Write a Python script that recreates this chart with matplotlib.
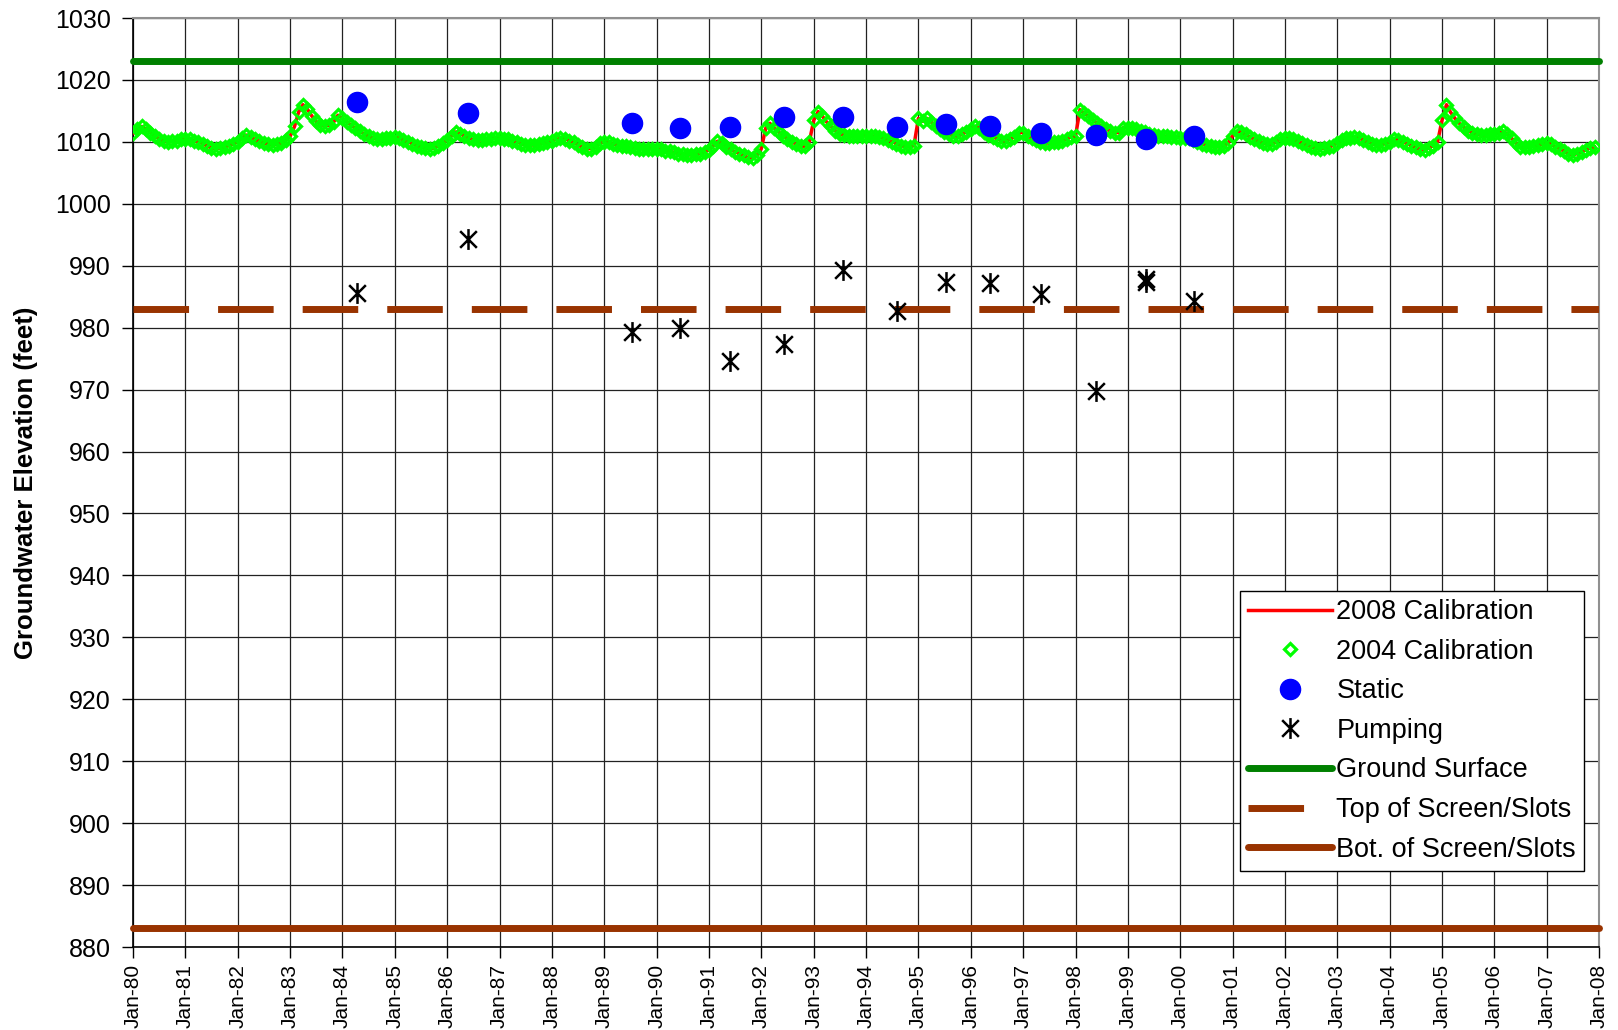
import matplotlib
matplotlib.use("Agg")
import matplotlib.pyplot as plt
import matplotlib.dates as mdates
from matplotlib.path import Path
import pandas as pd

plt.rcParams['font.family'] = ['Liberation Sans', 'DejaVu Sans']

# ---------------- data ----------------
start_month = "1980-01-01"
calib_2008 = [
    # 1980
    1011.4, 1012.0, 1012.5, 1012.0, 1011.5, 1011.0, 1010.5, 1010.1, 1010.0, 1010.1, 1010.2, 1010.4,
    # 1981
    1010.5, 1010.4, 1010.2, 1010.0, 1009.7, 1009.3, 1009.0, 1008.9, 1009.0, 1009.2, 1009.4, 1009.7,
    # 1982
    1010.0, 1010.6, 1011.1, 1010.8, 1010.4, 1010.1, 1009.8, 1009.6, 1009.5, 1009.6, 1009.8, 1010.3,
    # 1983
    1010.9, 1012.5, 1014.8, 1016.0, 1015.3, 1014.2, 1013.3, 1012.8, 1012.6, 1012.7, 1013.2, 1014.3,
    # 1984
    1013.8, 1013.2, 1012.7, 1012.2, 1011.7, 1011.3, 1010.9, 1010.6, 1010.4, 1010.5, 1010.6, 1010.7,
    # 1985
    1010.8, 1010.6, 1010.3, 1010.0, 1009.7, 1009.4, 1009.2, 1009.0, 1008.9, 1009.0, 1009.4, 1009.8,
    # 1986
    1010.3, 1011.0, 1011.6, 1011.3, 1010.9, 1010.6, 1010.4, 1010.3, 1010.3, 1010.4, 1010.5, 1010.6,
    # 1987
    1010.6, 1010.5, 1010.4, 1010.2, 1010.0, 1009.7, 1009.5, 1009.5, 1009.5, 1009.6, 1009.8, 1010.0,
    # 1988
    1010.2, 1010.4, 1010.6, 1010.5, 1010.2, 1009.9, 1009.5, 1009.1, 1008.9, 1008.9, 1009.2, 1009.8,
    # 1989
    1010.0, 1009.9, 1009.7, 1009.5, 1009.4, 1009.3, 1009.1, 1009.0, 1008.9, 1008.9, 1008.9, 1008.9,
    # 1990
    1008.9, 1008.8, 1008.6, 1008.5, 1008.3, 1008.1, 1008.0, 1007.9, 1007.9, 1008.0, 1008.1, 1008.4,
    # 1991
    1008.7, 1009.4, 1010.1, 1009.8, 1009.2, 1008.8, 1008.4, 1008.1, 1007.8, 1007.5, 1007.4, 1007.8,
    # 1992
    1008.9, 1012.2, 1013.0, 1012.2, 1011.6, 1011.0, 1010.5, 1010.0, 1009.6, 1009.3, 1009.3, 1010.0,
    # 1993
    1013.5, 1014.9, 1014.2, 1013.2, 1012.5, 1011.8, 1011.3, 1011.1, 1011.0, 1010.9, 1010.9, 1010.9,
    # 1994
    1011.0, 1011.0, 1010.9, 1010.8, 1010.6, 1010.3, 1010.0, 1009.7, 1009.4, 1009.2, 1009.2, 1009.4,
    # 1995
    1013.8, 1013.3, 1013.8, 1013.2, 1012.6, 1012.1, 1011.6, 1011.2, 1011.0, 1010.9, 1011.2, 1011.6,
    # 1996
    1012.0, 1012.5, 1012.2, 1011.6, 1011.1, 1010.8, 1010.5, 1010.2, 1010.1, 1010.4, 1010.8, 1011.5,
    # 1997
    1011.5, 1011.0, 1010.6, 1010.3, 1010.0, 1009.8, 1009.8, 1009.9, 1010.0, 1010.2, 1010.5, 1010.8,
    # 1998
    1010.9, 1015.2, 1014.6, 1014.2, 1013.6, 1013.0, 1012.5, 1012.0, 1011.8, 1011.5, 1011.5, 1012.3,
    # 1999
    1012.3, 1012.2, 1012.0, 1011.8, 1011.6, 1011.3, 1011.1, 1011.0, 1010.9, 1010.9, 1010.8, 1010.8,
    # 2000
    1010.7, 1010.7, 1010.6, 1010.3, 1010.0, 1009.7, 1009.5, 1009.3, 1009.2, 1009.2, 1009.4, 1009.8,
    # 2001
    1011.0, 1011.7, 1011.6, 1011.2, 1010.8, 1010.4, 1010.1, 1009.8, 1009.6, 1009.6, 1010.0, 1010.5,
    # 2002
    1010.6, 1010.6, 1010.4, 1010.1, 1009.8, 1009.5, 1009.2, 1009.0, 1008.9, 1009.0, 1009.1, 1009.4,
    # 2003
    1009.8, 1010.3, 1010.6, 1010.6, 1010.8, 1010.6, 1010.3, 1010.0, 1009.7, 1009.5, 1009.5, 1009.7,
    # 2004
    1010.0, 1010.5, 1010.3, 1010.0, 1009.7, 1009.4, 1009.1, 1008.8, 1008.7, 1009.0, 1009.4, 1010.0,
    # 2005
    1013.5, 1016.0, 1014.8, 1013.8, 1013.0, 1012.4, 1011.8, 1011.4, 1011.2, 1011.1, 1011.1, 1011.2,
    # 2006
    1011.3, 1011.5, 1011.7, 1011.3, 1010.6, 1009.8, 1009.2, 1009.1, 1009.2, 1009.3, 1009.5, 1009.6,
    # 2007
    1009.8, 1009.6, 1009.2, 1008.9, 1008.5, 1008.1, 1007.9, 1008.1, 1008.4, 1008.7, 1009.0, 1009.2,
]
calib_2004 = list(calib_2008)

obs_dates = ["1984-04-12", "1986-05-26", "1989-07-13", "1990-06-10", "1991-05-30",
             "1992-06-07", "1993-07-27", "1994-08-04", "1995-07-16", "1996-05-16",
             "1997-05-05", "1998-05-27", "1999-05-09", "2000-04-10"]
static_levels = [1016.5, 1014.7, 1013.0, 1012.2, 1012.4, 1014.0, 1014.0, 1012.4,
                 1012.9, 1012.5, 1011.4, 1011.1, 1010.5, 1011.0]
pump_dates = obs_dates[:13] + ["1999-05-09"] + obs_dates[13:]
pump_levels = [985.6, 994.25, 979.3, 979.9, 974.6, 977.3, 989.25, 982.75,
               987.4, 987.25, 985.4, 969.75, 987.3, 987.8, 984.25]

ground_surface = 1023
top_screen = 983
bot_screen = 883
x_start, x_end = "1980-01-01", "2008-01-01"
y_ticks = list(range(880, 1031, 10))

# star marker: X with a vertical bar (Excel style)
star = Path([(-1, -1), (1, 1), (-1, 1), (1, -1), (0, -1.25), (0, 1.25)],
            [Path.MOVETO, Path.LINETO, Path.MOVETO, Path.LINETO, Path.MOVETO, Path.LINETO])

# ---------------- figure ----------------
fig = plt.figure(figsize=(16.18, 10.30), dpi=100)
ax = fig.add_axes([133/1618, 1 - 947/1030, 1466/1618, 929/1030])

months = pd.date_range(start_month, periods=len(calib_2008), freq="MS")
ends = pd.to_datetime([x_start, x_end])

ax.plot(months, calib_2008, color="#ff0000", lw=2.5, label="2008 Calibration", zorder=4)
ax.plot(months, calib_2004, ls="none", marker="D", markersize=6, markerfacecolor="none",
        markeredgecolor="#00ff00", markeredgewidth=2.3, label="2004 Calibration", zorder=5)
ax.plot(pd.to_datetime(obs_dates), static_levels, ls="none", marker="o", markersize=14.5,
        color="#0000ff", label="Static", zorder=6)
ax.plot(pd.to_datetime(pump_dates), pump_levels, ls="none", marker=star, markersize=15,
        markeredgecolor="black", markerfacecolor="none", markeredgewidth=1.8,
        label="Pumping", zorder=7)
ax.plot(ends, [ground_surface] * 2, color="#008000", lw=5, solid_capstyle="round",
        clip_on=False, label="Ground Surface", zorder=3)
ax.plot(ends, [top_screen] * 2, color="#993300", lw=5, ls=(0, (8.0, 4.18)),
        dash_capstyle="butt", label="Top of Screen/Slots", zorder=3)
ax.plot(ends, [bot_screen] * 2, color="#993300", lw=5, solid_capstyle="round",
        clip_on=False, label="Bot. of Screen/Slots", zorder=3)

ax.set_xlim(ends[0], ends[1])
ax.set_ylim(880, 1030)
ax.set_yticks(y_ticks)
ax.xaxis.set_major_locator(mdates.YearLocator(1, month=1, day=1))
ax.xaxis.set_major_formatter(mdates.DateFormatter("%b-%y"))
plt.setp(ax.get_xticklabels(), rotation=90, ha="center")

ax.tick_params(axis="y", labelsize=18, length=8, width=1, pad=8, direction="out")
ax.tick_params(axis="x", labelsize=15, length=8, width=1, pad=4, direction="out")

ax.grid(True, which="major", color="#222222", lw=0.9)
ax.set_axisbelow(True)
for s in ["top", "right"]:
    ax.spines[s].set_color("#909090")
    ax.spines[s].set_linewidth(1.5)
for s in ["left", "bottom"]:
    ax.spines[s].set_color("black")
    ax.spines[s].set_linewidth(1.2)

ax.set_ylabel("Groundwater Elevation (feet)", fontsize=18.5, fontweight="bold")
ax.yaxis.set_label_coords(-0.065, 0.5)

leg = ax.legend(loc="upper right", bbox_to_anchor=(0.9898, 0.383), fontsize=19.5,
                frameon=True, fancybox=False, shadow=False, edgecolor="black",
                framealpha=1, handlelength=3.1, handletextpad=0.15, labelspacing=0.5,
                borderpad=0.3, borderaxespad=0)
leg.get_frame().set_linewidth(1.0)

fig.savefig("out.png", dpi=100)
